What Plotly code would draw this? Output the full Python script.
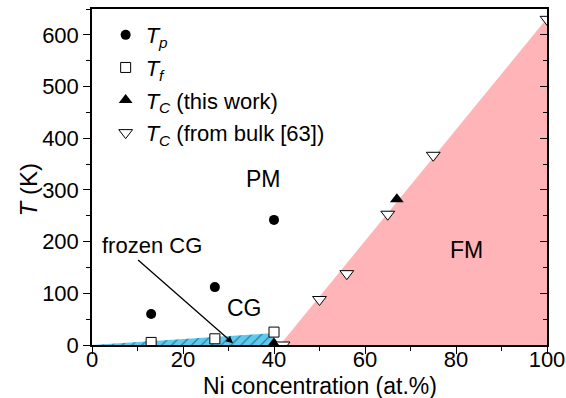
import plotly.graph_objects as go

# Data
tp_x = [13, 27, 40]
tp_y = [60, 112, 242]
tf_x = [13, 27, 40]
tf_y = [5, 12, 25]
tc_this_x = [40, 67]
tc_this_y = [3, 282]
tc_bulk_x = [42, 50, 56, 65, 75, 100]
tc_bulk_y = [0, 88, 138, 253, 367, 630]

# Region boundaries
fm_x = [41.3, 100, 100, 41.3]
fm_y = [0, 632, 0, 0]
cg_x = [0, 40, 40, 0]
cg_y = [0, 23, 0, 0]

FONT = "Liberation Sans, Arial, sans-serif"

fig = go.Figure()

fig.add_trace(go.Scatter(x=fm_x, y=fm_y, fill="toself", mode="lines",
                         line=dict(width=0), fillcolor="#ffb5b7",
                         showlegend=False, hoverinfo="skip"))
fig.add_trace(go.Scatter(x=cg_x, y=cg_y, fill="toself", mode="lines",
                         line=dict(width=0), fillcolor="#5ccbf0",
                         fillpattern=dict(shape="/", fgcolor="black", bgcolor="#5ccbf0",
                                          size=7, solidity=0.15),
                         showlegend=False, hoverinfo="skip"))

fig.add_trace(go.Scatter(x=tp_x, y=tp_y, mode="markers", name="<i>T</i><sub><i>p</i></sub>",
                         legendgroup="a",
                         marker=dict(symbol="circle", size=10, color="black")))
fig.add_trace(go.Scatter(x=tf_x, y=tf_y, mode="markers", name="<i>T</i><sub><i>f</i></sub>",
                         legendgroup="b",
                         marker=dict(symbol="square", size=10, color="white",
                                     line=dict(color="black", width=1))))
fig.add_trace(go.Scatter(x=tc_this_x, y=tc_this_y, mode="markers",
                         name="<i>T</i><sub><i>C</i></sub> (this work)",
                         legendgroup="c",
                         marker=dict(symbol="triangle-up", size=12, color="black")))
fig.add_trace(go.Scatter(x=tc_bulk_x, y=tc_bulk_y, mode="markers",
                         name="<i>T</i><sub><i>C</i></sub> (from bulk [63])",
                         legendgroup="d",
                         marker=dict(symbol="triangle-down", size=12, color="white",
                                     line=dict(color="black", width=1))))

# Dummy trace for right axis
fig.add_trace(go.Scatter(x=[None], y=[None], yaxis="y2", showlegend=False))

for txt, x, y in [("PM", 37.6, 322), ("CG", 33.6, 72), ("FM", 82.4, 184)]:
    fig.add_annotation(x=x, y=y, text=txt, showarrow=False,
                       font=dict(family=FONT, size=23, color="black"))

fig.add_annotation(x=31.0, y=3.3, ax=9.8, ay=167, xref="x", yref="y",
                   axref="x", ayref="y", text="", showarrow=True,
                   arrowhead=2, arrowsize=1.1, arrowwidth=1.3, arrowcolor="black")
fig.add_annotation(x=13.1, y=193, text="frozen CG", showarrow=False,
                   font=dict(family=FONT, size=22, color="black"))

# Axis titles
fig.add_annotation(x=0.501, y=-0.122, xref="paper", yref="paper",
                   text="Ni concentration (at.%)", showarrow=False,
                   xanchor="center", yanchor="middle",
                   font=dict(family=FONT, size=23, color="black"))
fig.add_annotation(x=-0.14, y=0.461, xref="paper", yref="paper",
                   text="<i>T</i> (K)", showarrow=False, textangle=-90,
                   xanchor="center", yanchor="middle",
                   font=dict(family=FONT, size=24, color="black"))

fig.update_layout(
    width=566, height=398,
    margin=dict(l=92, r=19, t=9, b=53),
    paper_bgcolor="white", plot_bgcolor="white",
    font=dict(family=FONT, size=22, color="black"),
    showlegend=True,
    legend=dict(x=0.03, y=0.985, xanchor="left", yanchor="top",
                bgcolor="rgba(0,0,0,0)", font=dict(size=22),
                tracegroupgap=1, traceorder="grouped", itemwidth=30),
    xaxis=dict(range=[0, 100], showgrid=False, zeroline=False, automargin=False,
               showline=True, linecolor="black", linewidth=1.5, mirror=True,
               ticks="outside", ticklen=7, tickwidth=1.2, tickcolor="black",
               tickfont=dict(size=22), ticklabeloverflow="allow",
               ticklabelstandoff=-13,
               dtick=20, minor=dict(dtick=10, ticks="outside", ticklen=4, tickcolor="black")),
    yaxis=dict(range=[0, 650], showgrid=False, zeroline=False, automargin=False,
               showline=True, linecolor="black", linewidth=1.5,
               ticks="outside", ticklen=7, tickwidth=1.2, tickcolor="black",
               tickfont=dict(size=22), ticklabeloverflow="allow",
               dtick=100, minor=dict(dtick=50, ticks="outside", ticklen=4, tickcolor="black")),
    yaxis2=dict(range=[0, 650], overlaying="y", side="right", showgrid=False,
                zeroline=False, showline=True, linecolor="black", linewidth=1.5,
                ticks="inside", ticklen=7, tickwidth=1.2, tickcolor="black",
                showticklabels=False, dtick=100, automargin=False,
                minor=dict(dtick=50, ticks="inside", ticklen=4, tickcolor="black")),
)

fig.write_html("out.html")
